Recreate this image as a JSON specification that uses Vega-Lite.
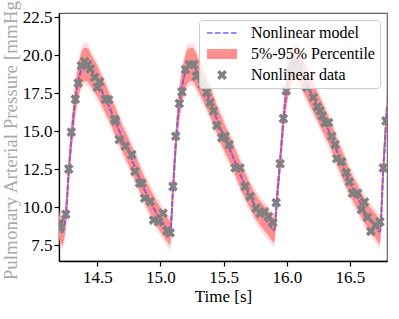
{
  "$schema": "https://vega.github.io/schema/vega-lite/v6.json",
  "width": 328,
  "height": 248,
  "autosize": {"type": "none"},
  "padding": {"left": 59, "top": 13, "right": 12, "bottom": 58},
  "background": "white",
  "config": {
    "font": "Liberation Serif",
    "view": {"stroke": "#666666", "strokeWidth": 1.2},
    "axis": {
      "labelFont": "Liberation Serif", "titleFont": "Liberation Serif",
      "labelFontSize": 17, "titleFontSize": 17, "labelColor": "black", "titleColor": "black",
      "domainColor": "black", "tickColor": "black", "grid": false, "tickSize": 5,
      "domainWidth": 1.3, "tickWidth": 1.2, "titleFontWeight": "normal", "labelPadding": 2
    },
    "legend": {
      "labelFont": "Liberation Serif", "labelFontSize": 16, "labelColor": "black",
      "symbolSize": 196, "rowPadding": 5, "padding": 5, "labelOffset": 21, "symbolOffset": 10,
      "symbolStrokeWidth": 0,
      "fillColor": "rgba(255,255,255,0.8)", "strokeColor": "#cccccc", "cornerRadius": 3,
      "orient": "top-right", "offset": 7
    }
  },
  "datasets": {
    "model": [
      {"t": 14.197, "m": 8.8, "lo": 8.0, "hi": 9.6, "lo2": 7.7, "hi2": 9.9},
      {"t": 14.222, "m": 8.35, "lo": 7.55, "hi": 9.15, "lo2": 7.25, "hi2": 9.45},
      {"t": 14.25, "m": 9.4, "lo": 8.6, "hi": 10.2, "lo2": 8.3, "hi2": 10.5},
      {"t": 14.275, "m": 12.4, "lo": 11.55, "hi": 13.25, "lo2": 11.25, "hi2": 13.55},
      {"t": 14.3, "m": 15.0, "lo": 14.1, "hi": 15.9, "lo2": 13.8, "hi2": 16.2},
      {"t": 14.325, "m": 17.0, "lo": 16.0, "hi": 18.0, "lo2": 15.7, "hi2": 18.3},
      {"t": 14.35, "m": 18.3, "lo": 17.25, "hi": 19.35, "lo2": 16.95, "hi2": 19.65},
      {"t": 14.375, "m": 19.1, "lo": 18.0, "hi": 20.2, "lo2": 17.7, "hi2": 20.5},
      {"t": 14.4, "m": 19.4, "lo": 18.3, "hi": 20.5, "lo2": 18.0, "hi2": 20.8},
      {"t": 14.425, "m": 19.35, "lo": 18.25, "hi": 20.45, "lo2": 17.95, "hi2": 20.75},
      {"t": 14.45, "m": 19.0, "lo": 17.95, "hi": 20.05, "lo2": 17.65, "hi2": 20.35},
      {"t": 14.5, "m": 18.3, "lo": 17.3, "hi": 19.3, "lo2": 17.0, "hi2": 19.6},
      {"t": 14.55, "m": 17.4, "lo": 16.45, "hi": 18.35, "lo2": 16.15, "hi2": 18.65},
      {"t": 14.6, "m": 16.5, "lo": 15.6, "hi": 17.4, "lo2": 15.3, "hi2": 17.7},
      {"t": 14.65, "m": 15.5, "lo": 14.6, "hi": 16.4, "lo2": 14.3, "hi2": 16.7},
      {"t": 14.7, "m": 14.5, "lo": 13.65, "hi": 15.35, "lo2": 13.35, "hi2": 15.65},
      {"t": 14.75, "m": 13.6, "lo": 12.75, "hi": 14.45, "lo2": 12.45, "hi2": 14.75},
      {"t": 14.8, "m": 12.6, "lo": 11.75, "hi": 13.45, "lo2": 11.45, "hi2": 13.75},
      {"t": 14.85, "m": 11.6, "lo": 10.8, "hi": 12.4, "lo2": 10.5, "hi2": 12.7},
      {"t": 14.9, "m": 10.7, "lo": 9.9, "hi": 11.5, "lo2": 9.6, "hi2": 11.8},
      {"t": 14.95, "m": 9.9, "lo": 9.1, "hi": 10.7, "lo2": 8.8, "hi2": 11.0},
      {"t": 15.0, "m": 9.2, "lo": 8.4, "hi": 10.0, "lo2": 8.1, "hi2": 10.3},
      {"t": 15.05, "m": 8.6, "lo": 7.8, "hi": 9.4, "lo2": 7.5, "hi2": 9.7},
      {"t": 15.077, "m": 8.3, "lo": 7.5, "hi": 9.1, "lo2": 7.2, "hi2": 9.4},
      {"t": 15.1, "m": 11.3, "lo": 10.5, "hi": 12.1, "lo2": 10.2, "hi2": 12.4},
      {"t": 15.125, "m": 14.6, "lo": 13.7, "hi": 15.5, "lo2": 13.4, "hi2": 15.8},
      {"t": 15.15, "m": 16.8, "lo": 15.8, "hi": 17.8, "lo2": 15.5, "hi2": 18.1},
      {"t": 15.175, "m": 18.1, "lo": 17.05, "hi": 19.15, "lo2": 16.75, "hi2": 19.45},
      {"t": 15.2, "m": 19.0, "lo": 17.9, "hi": 20.1, "lo2": 17.6, "hi2": 20.4},
      {"t": 15.225, "m": 19.35, "lo": 18.25, "hi": 20.45, "lo2": 17.95, "hi2": 20.75},
      {"t": 15.25, "m": 19.4, "lo": 18.3, "hi": 20.5, "lo2": 18.0, "hi2": 20.8},
      {"t": 15.275, "m": 19.15, "lo": 18.05, "hi": 20.25, "lo2": 17.75, "hi2": 20.55},
      {"t": 15.3, "m": 18.7, "lo": 17.65, "hi": 19.75, "lo2": 17.35, "hi2": 20.05},
      {"t": 15.35, "m": 17.8, "lo": 16.8, "hi": 18.8, "lo2": 16.5, "hi2": 19.1},
      {"t": 15.4, "m": 16.8, "lo": 15.85, "hi": 17.75, "lo2": 15.55, "hi2": 18.05},
      {"t": 15.45, "m": 15.7, "lo": 14.8, "hi": 16.6, "lo2": 14.5, "hi2": 16.9},
      {"t": 15.5, "m": 14.7, "lo": 13.8, "hi": 15.6, "lo2": 13.5, "hi2": 15.9},
      {"t": 15.55, "m": 13.8, "lo": 12.95, "hi": 14.65, "lo2": 12.65, "hi2": 14.95},
      {"t": 15.6, "m": 12.8, "lo": 11.95, "hi": 13.65, "lo2": 11.65, "hi2": 13.95},
      {"t": 15.65, "m": 11.8, "lo": 10.95, "hi": 12.65, "lo2": 10.65, "hi2": 12.95},
      {"t": 15.7, "m": 10.9, "lo": 10.1, "hi": 11.7, "lo2": 9.8, "hi2": 12.0},
      {"t": 15.75, "m": 10.1, "lo": 9.3, "hi": 10.9, "lo2": 9.0, "hi2": 11.2},
      {"t": 15.8, "m": 9.5, "lo": 8.7, "hi": 10.3, "lo2": 8.4, "hi2": 10.6},
      {"t": 15.85, "m": 9.0, "lo": 8.2, "hi": 9.8, "lo2": 7.9, "hi2": 10.1},
      {"t": 15.9, "m": 8.5, "lo": 7.7, "hi": 9.3, "lo2": 7.4, "hi2": 9.6},
      {"t": 15.925, "m": 10.9, "lo": 10.1, "hi": 11.7, "lo2": 9.8, "hi2": 12.0},
      {"t": 15.95, "m": 13.3, "lo": 12.45, "hi": 14.15, "lo2": 12.15, "hi2": 14.45},
      {"t": 15.975, "m": 15.9, "lo": 15.0, "hi": 16.8, "lo2": 14.7, "hi2": 17.1},
      {"t": 16.0, "m": 17.8, "lo": 16.8, "hi": 18.8, "lo2": 16.5, "hi2": 19.1},
      {"t": 16.025, "m": 18.9, "lo": 17.85, "hi": 19.95, "lo2": 17.55, "hi2": 20.25},
      {"t": 16.05, "m": 19.4, "lo": 18.3, "hi": 20.5, "lo2": 18.0, "hi2": 20.8},
      {"t": 16.075, "m": 19.5, "lo": 18.4, "hi": 20.6, "lo2": 18.1, "hi2": 20.9},
      {"t": 16.1, "m": 19.3, "lo": 18.2, "hi": 20.4, "lo2": 17.9, "hi2": 20.7},
      {"t": 16.15, "m": 18.3, "lo": 17.3, "hi": 19.3, "lo2": 17.0, "hi2": 19.6},
      {"t": 16.2, "m": 17.4, "lo": 16.45, "hi": 18.35, "lo2": 16.15, "hi2": 18.65},
      {"t": 16.25, "m": 16.5, "lo": 15.6, "hi": 17.4, "lo2": 15.3, "hi2": 17.7},
      {"t": 16.3, "m": 15.6, "lo": 14.7, "hi": 16.5, "lo2": 14.4, "hi2": 16.8},
      {"t": 16.35, "m": 14.7, "lo": 13.85, "hi": 15.55, "lo2": 13.55, "hi2": 15.85},
      {"t": 16.4, "m": 13.6, "lo": 12.75, "hi": 14.45, "lo2": 12.45, "hi2": 14.75},
      {"t": 16.45, "m": 12.6, "lo": 11.75, "hi": 13.45, "lo2": 11.45, "hi2": 13.75},
      {"t": 16.5, "m": 11.6, "lo": 10.8, "hi": 12.4, "lo2": 10.5, "hi2": 12.7},
      {"t": 16.55, "m": 10.8, "lo": 10.0, "hi": 11.6, "lo2": 9.7, "hi2": 11.9},
      {"t": 16.6, "m": 10.0, "lo": 9.2, "hi": 10.8, "lo2": 8.9, "hi2": 11.1},
      {"t": 16.65, "m": 9.3, "lo": 8.5, "hi": 10.1, "lo2": 8.2, "hi2": 10.4},
      {"t": 16.7, "m": 8.8, "lo": 8.0, "hi": 9.6, "lo2": 7.7, "hi2": 9.9},
      {"t": 16.737, "m": 8.4, "lo": 7.6, "hi": 9.2, "lo2": 7.3, "hi2": 9.5},
      {"t": 16.763, "m": 12.4, "lo": 11.55, "hi": 13.25, "lo2": 11.25, "hi2": 13.55},
      {"t": 16.793, "m": 16.6, "lo": 15.65, "hi": 17.55, "lo2": 15.35, "hi2": 17.85}
    ],
    "obs": [
      {"t": 14.2, "p": 8.64}, {"t": 14.205, "p": 8.97}, {"t": 14.25, "p": 9.54}, {"t": 14.274, "p": 12.52},
      {"t": 14.295, "p": 14.95}, {"t": 14.326, "p": 17.11}, {"t": 14.348, "p": 18.17}, {"t": 14.374, "p": 19.32},
      {"t": 14.4, "p": 19.58}, {"t": 14.424, "p": 19.36}, {"t": 14.445, "p": 19.1}, {"t": 14.479, "p": 18.55},
      {"t": 14.5, "p": 17.89}, {"t": 14.519, "p": 18.26}, {"t": 14.564, "p": 17.11}, {"t": 14.59, "p": 17.07},
      {"t": 14.637, "p": 15.79}, {"t": 14.645, "p": 15.68}, {"t": 14.674, "p": 14.46}, {"t": 14.722, "p": 14.02},
      {"t": 14.774, "p": 13.47}, {"t": 14.798, "p": 12.36}, {"t": 14.835, "p": 11.59}, {"t": 14.853, "p": 11.59},
      {"t": 14.874, "p": 10.6}, {"t": 14.919, "p": 10.38}, {"t": 14.945, "p": 9.16}, {"t": 14.985, "p": 9.05},
      {"t": 15.02, "p": 9.61}, {"t": 15.051, "p": 8.46}, {"t": 15.077, "p": 8.32},
      {"t": 15.099, "p": 11.37}, {"t": 15.121, "p": 14.68}, {"t": 15.149, "p": 16.83}, {"t": 15.17, "p": 17.6},
      {"t": 15.198, "p": 19.06}, {"t": 15.23, "p": 19.39}, {"t": 15.262, "p": 19.39}, {"t": 15.283, "p": 18.62},
      {"t": 15.3, "p": 18.7}, {"t": 15.33, "p": 18.1}, {"t": 15.367, "p": 17.55}, {"t": 15.393, "p": 16.89},
      {"t": 15.42, "p": 16.33}, {"t": 15.446, "p": 15.38}, {"t": 15.486, "p": 14.57}, {"t": 15.512, "p": 14.68},
      {"t": 15.544, "p": 14.13}, {"t": 15.591, "p": 12.59}, {"t": 15.63, "p": 12.59}, {"t": 15.67, "p": 11.37},
      {"t": 15.71, "p": 10.71}, {"t": 15.757, "p": 9.94}, {"t": 15.789, "p": 9.61}, {"t": 15.823, "p": 9.72},
      {"t": 15.855, "p": 9.39}, {"t": 15.89, "p": 8.99},
      {"t": 15.916, "p": 10.31}, {"t": 15.947, "p": 12.87}, {"t": 15.973, "p": 15.84}, {"t": 15.995, "p": 17.66},
      {"t": 16.02, "p": 18.8}, {"t": 16.045, "p": 19.3}, {"t": 16.07, "p": 19.45}, {"t": 16.095, "p": 19.2},
      {"t": 16.125, "p": 18.6}, {"t": 16.158, "p": 17.89}, {"t": 16.21, "p": 17.23}, {"t": 16.242, "p": 16.61},
      {"t": 16.263, "p": 16.35}, {"t": 16.28, "p": 16.02}, {"t": 16.303, "p": 15.57}, {"t": 16.33, "p": 15.57},
      {"t": 16.355, "p": 14.68}, {"t": 16.382, "p": 14.13}, {"t": 16.395, "p": 13.2}, {"t": 16.434, "p": 13.0},
      {"t": 16.47, "p": 12.28}, {"t": 16.495, "p": 11.67}, {"t": 16.52, "p": 10.93}, {"t": 16.56, "p": 10.93},
      {"t": 16.592, "p": 9.85}, {"t": 16.615, "p": 10.35}, {"t": 16.638, "p": 9.34}, {"t": 16.665, "p": 8.42},
      {"t": 16.702, "p": 8.83}, {"t": 16.737, "p": 9.05}, {"t": 16.763, "p": 12.59}, {"t": 16.785, "p": 15.68}
    ]
  },
  "encoding": {
    "x": {
      "field": "t", "type": "quantitative",
      "scale": {"domain": [14.197, 16.793], "nice": false, "zero": false},
      "axis": {"title": "Time [s]", "titleFontWeight": "normal", "values": [14.5, 15.0, 15.5, 16.0, 16.5], "format": ".1f", "titlePadding": 3, "labelPadding": 3}
    }
  },
  "layer": [
    {
      "data": {"name": "model"},
      "mark": {"type": "area", "interpolate": "monotone", "clip": true, "opacity": 0.35, "color": "#ff9a9a"},
      "encoding": {
        "y": {"field": "lo2", "type": "quantitative"},
        "y2": {"field": "hi2"}
      }
    },
    {
      "data": {"name": "model"},
      "mark": {"type": "area", "interpolate": "monotone", "clip": true, "opacity": 1},
      "encoding": {
        "y": {
          "field": "lo", "type": "quantitative",
          "scale": {"domain": [6.47, 22.78], "nice": false, "zero": false},
          "axis": {
            "title": "Pulmonary Arterial Pressure [mmHg]", "titleColor": "#aaaaaa", "titleFontSize": 19, "titleFontWeight": "normal",
            "values": [7.5, 10, 12.5, 15, 17.5, 20, 22.5], "format": ".1f", "titlePadding": 2
          }
        },
        "y2": {"field": "hi"},
        "color": {
          "datum": "5%-95% Percentile",
          "scale": {"domain": ["Nonlinear model", "5%-95% Percentile", "Nonlinear data"], "range": ["#8c8cff", "#ff8e8e", "#808080"]},
          "legend": {"title": null}
        }
      }
    },
    {
      "data": {"name": "model"},
      "mark": {"type": "line", "interpolate": "monotone", "clip": true, "color": "#f7a26e", "strokeWidth": 2},
      "encoding": {"y": {"field": "m", "type": "quantitative"}}
    },
    {
      "data": {"name": "model"},
      "mark": {"type": "line", "interpolate": "monotone", "clip": true, "strokeWidth": 2, "strokeDash": [6, 1.2], "opacity": 1, "color": "#9955cc"},
      "encoding": {
        "y": {"field": "m", "type": "quantitative"}
      }
    },
    {
      "data": {"name": "obs"},
      "mark": {"type": "point", "filled": true, "clip": true, "size": 196, "opacity": 1, "strokeWidth": 0, "color": "#808080"},
      "encoding": {
        "y": {"field": "p", "type": "quantitative"},
        "shape": {
          "datum": "Nonlinear data",
          "scale": {
            "domain": ["Nonlinear model", "5%-95% Percentile", "Nonlinear data"],
            "range": [
              "M-2.14,-0.13H-1.35V0.13H-2.14Z M-1,-0.13H-0.21V0.13H-1Z M0.15,-0.13H0.93V0.13H0.15Z M1.29,-0.13H2.08V0.13H1.29Z",
              "M-2.14,-0.71H2.14V0.71H-2.14Z",
              "M-0.7,-0.35L-0.35,-0.7L0,-0.35L0.35,-0.7L0.7,-0.35L0.35,0L0.7,0.35L0.35,0.7L0,0.35L-0.35,0.7L-0.7,0.35L-0.35,0Z"
            ]
          },
          "legend": {"title": null}
        }
      }
    }
  ]
}
